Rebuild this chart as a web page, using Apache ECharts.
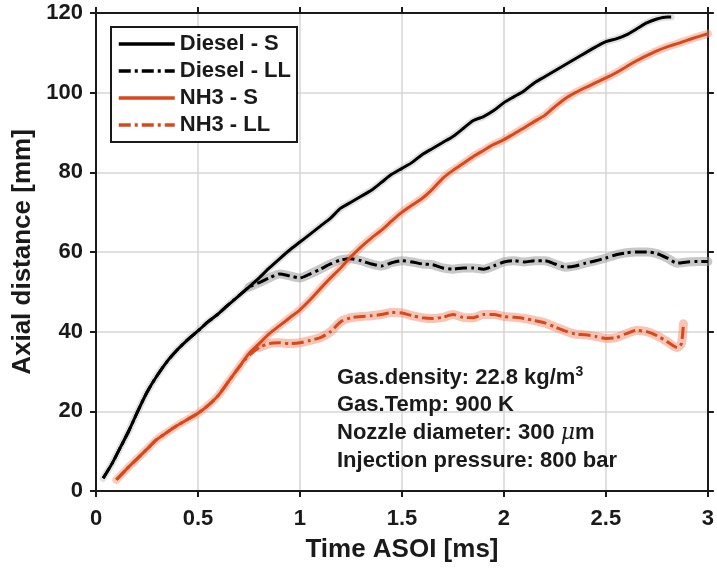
<!DOCTYPE html>
<html><head><meta charset="utf-8">
<script src="https://cdn.jsdelivr.net/npm/echarts@6/dist/echarts.min.js"></script>
<style>html,body{margin:0;padding:0;background:#fff}#c{width:717px;height:568px}</style>
</head><body><div id="c"></div>
<script>
// ---- data ----
const dieselS_t = [0.035,0.08,0.12,0.16,0.2,0.25,0.3,0.35,0.4,0.45,0.5,0.55,0.6,0.65,0.7,0.75,0.8,0.85,0.9,0.95,1.0,1.05,1.1,1.15,1.2,1.25,1.3,1.35,1.4,1.45,1.5,1.55,1.6,1.65,1.7,1.75,1.8,1.85,1.9,1.95,2.0,2.05,2.1,2.15,2.2,2.25,2.3,2.35,2.4,2.45,2.5,2.55,2.6,2.65,2.7,2.75,2.8,2.82];
const dieselS_y = [3.2,7,11,15,19.5,24.8,29,32.6,35.5,38,40.2,42.5,44.5,46.8,49,51.2,53.5,56,58.3,60.5,62.5,64.5,66.5,68.5,71,72.5,74,75.5,77.5,79.5,81,82.5,84.5,86,87.5,89,91,93,94,95.5,97.5,99,100.5,102.5,104,105.5,107,108.5,110,111.5,112.8,113.5,114.5,116,117.5,118.5,119,119];

const dieselLL_t = [0.035,0.08,0.12,0.16,0.2,0.25,0.3,0.35,0.4,0.45,0.5,0.55,0.6,0.65,0.7,0.75,0.8,0.85,0.9,0.95,1.0,1.05,1.1,1.15,1.2,1.25,1.3,1.35,1.4,1.45,1.5,1.55,1.6,1.65,1.7,1.75,1.8,1.85,1.9,1.95,2.0,2.05,2.1,2.15,2.2,2.25,2.3,2.35,2.4,2.45,2.5,2.55,2.6,2.65,2.7,2.75,2.8,2.85,2.9,2.95,3.0];
const dieselLL_y = [3.2,7,11,15,19.5,24.8,29,32.6,35.5,38,40.2,42.5,44.5,46.8,49,51.2,52.3,53.5,54.5,54,53.5,54.5,55.7,57,58,58.3,57.8,57,56.5,57.3,57.8,57.5,57,56.8,56,55.7,56,56,55.7,56.5,57.5,57.8,57.5,57.8,57.8,57,56.2,56.5,57.2,57.8,58.5,59.3,59.8,60,60,59.6,58.5,57.2,57.5,57.6,57.6];

const nh3S_t = [0.1,0.15,0.2,0.25,0.3,0.35,0.4,0.45,0.5,0.55,0.6,0.65,0.7,0.75,0.8,0.85,0.9,0.95,1.0,1.05,1.1,1.15,1.2,1.25,1.3,1.35,1.4,1.45,1.5,1.55,1.6,1.65,1.7,1.75,1.8,1.85,1.9,1.95,2.0,2.05,2.1,2.15,2.2,2.25,2.3,2.35,2.4,2.45,2.5,2.55,2.6,2.65,2.7,2.75,2.8,2.85,2.9,2.95,3.0];
const nh3S_y = [2.8,5.5,8,10.5,13,14.8,16.5,18,19.5,21.5,24,27.5,31,34.5,37,39.5,41.5,43.5,45.5,48,50.8,53.5,56,58.8,61.3,63.5,65.5,67.8,70,71.8,73.5,75.8,78.5,80.5,82.2,84,85.5,87,88.2,89.7,91.2,92.8,94.3,96.5,98.5,100,101.3,102.5,103.7,105,106.5,108,109.3,110.5,111.5,112.3,113.2,114,114.8];

const nh3LL_t = [0.1,0.15,0.2,0.25,0.3,0.35,0.4,0.45,0.5,0.55,0.6,0.65,0.7,0.75,0.8,0.85,0.9,0.95,1.0,1.05,1.1,1.15,1.2,1.25,1.3,1.35,1.4,1.45,1.5,1.55,1.6,1.65,1.7,1.75,1.8,1.85,1.9,1.95,2.0,2.05,2.1,2.15,2.2,2.25,2.3,2.35,2.4,2.45,2.5,2.55,2.6,2.65,2.7,2.75,2.8,2.85,2.87,2.88];
const nh3LL_y = [2.8,5.5,8,10.5,13,14.8,16.5,18,19.5,21.5,24,27.5,31,34,36,37,37.2,37,37.2,37.8,38.5,40,42.5,43.5,43.8,44,44.3,44.8,44.7,44,43.5,43.3,43.6,44.3,43.6,43.5,44.3,44.3,43.8,43.6,43.3,42.8,42.2,41.2,40.2,39.4,39.2,38.8,38.3,38.5,39.5,40.3,40,39,37.5,36,37,42];

const seriesNames = ['Diesel - S','Diesel - LL','NH3 - S','NH3 - LL'];
const xTicks = [0,0.5,1,1.5,2,2.5,3];
const yTicks = [0,20,40,60,80,100,120];
const annotations = ['Gas.density: 22.8 kg/m{sup|3}','Gas.Temp: 900 K','Nozzle diameter: 300 {mu|μ}m','Injection pressure: 800 bar'];

// ---- chart ----
const pair = (t,y) => t.map((v,i)=>[v,y[i]]);
const FONT = '"Liberation Sans", Arial, sans-serif';
const RED = '#d9481a';
const INK = '#1a1a1a';
const chart = echarts.init(document.getElementById('c'), null, {renderer:'canvas'});

const xA = {type:'value',min:0,max:3,interval:0.5,
  axisLine:{show:true,onZero:false,lineStyle:{color:INK,width:2}},
  axisTick:{show:true,length:6,lineStyle:{color:INK,width:2}},
  splitLine:{show:true,lineStyle:{color:'#dad5d5',width:1.5}}};
const yA = {type:'value',min:0,max:120,interval:20,
  axisLine:{show:true,onZero:false,lineStyle:{color:INK,width:2}},
  axisTick:{show:true,length:6,lineStyle:{color:INK,width:2}},
  splitLine:{show:true,lineStyle:{color:'#dad5d5',width:1.5}}};

const halo = (data,color,op,w)=>({type:'line',data,xAxisIndex:0,yAxisIndex:0,symbol:'none',silent:true,smooth:0.25,
  lineStyle:{color,width:w,opacity:op,cap:'round',join:'round'},z:1});
const main = (name,data,color,dash)=>({name,type:'line',data,symbol:'none',showSymbol:false,xAxisIndex:0,yAxisIndex:0,smooth:0.25,
  lineStyle:{color,width:3,type:dash?[12,4,3,4]:'solid'},itemStyle:{color},z:3});

const dS = pair(dieselS_t,dieselS_y), dL = pair(dieselLL_t,dieselLL_y);
const nS = pair(nh3S_t,nh3S_y), nL = pair(nh3LL_t,nh3LL_y);

chart.setOption({
  backgroundColor:'#ffffff',
  animation:false,
  grid:{left:96,right:5,top:13,bottom:75,containLabel:false},
  xAxis:[Object.assign({},xA,{position:'bottom',name:'Time ASOI [ms]',nameLocation:'middle',nameGap:46,
      nameTextStyle:{fontFamily:FONT,fontWeight:'bold',fontSize:26,color:INK},
      axisLabel:{fontFamily:FONT,fontWeight:'bold',fontSize:22,color:INK,margin:17,
        formatter:v=>xTicks.includes(v)?String(v):''}}),
    Object.assign({},xA,{position:'top',axisLabel:{show:false},splitLine:{show:false}})],
  yAxis:[Object.assign({},yA,{position:'left',name:'Axial distance [mm]',nameLocation:'middle',nameGap:58,
      nameTextStyle:{fontFamily:FONT,fontWeight:'bold',fontSize:26,color:INK},
      axisLabel:{fontFamily:FONT,fontWeight:'bold',fontSize:22,color:INK,margin:13,
        formatter:v=>yTicks.includes(v)?String(v):''}}),
    Object.assign({},yA,{position:'right',axisLabel:{show:false},splitLine:{show:false}})],
  legend:{show:true,data:seriesNames,orient:'vertical',left:111,top:27,
    itemWidth:56,itemHeight:14,itemGap:5,padding:[6,6,6,6],
    itemStyle:{color:'rgba(0,0,0,0)',borderWidth:0,opacity:0},
    lineStyle:{width:3.5},
    backgroundColor:'#ffffff',borderColor:INK,borderWidth:2,borderRadius:0,
    textStyle:{fontFamily:FONT,fontWeight:'bold',fontSize:22,lineHeight:22,color:INK}},
  series:[
    halo(dS,'#9a9a9a',0.3,7),
    halo(dL.slice(15),'#9a9a9a',0.55,9),
    halo(nS,'#f08c6c',0.45,8),
    halo(nL.slice(14),'#f08c6c',0.5,9),
    main(seriesNames[0],dS,'#000000',false),
    main(seriesNames[1],dL,'#000000',true),
    main(seriesNames[2],nS,RED,false),
    main(seriesNames[3],nL,RED,true)
  ],
  graphic: annotations.map((s,i)=>({type:'text',left:337,top:365+i*28,z:10,
    style:{text:s,fill:INK,font:'bold 22px '+FONT,lineHeight:24,
      rich:{sup:{fontSize:14,fontWeight:'bold',fontFamily:FONT,lineHeight:24,padding:[0,0,12,0],fill:INK},
            mu:{fontSize:22,fontStyle:'italic',fontFamily:'"DejaVu Serif", serif',lineHeight:24,fill:INK}}}}))
});
</script></body></html>
